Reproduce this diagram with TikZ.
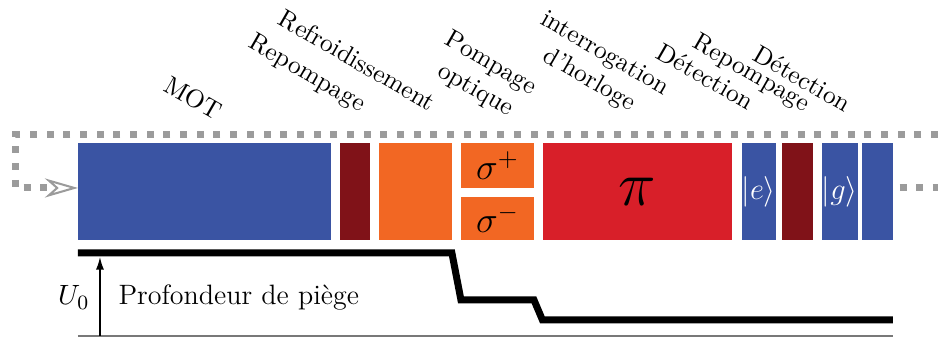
\documentclass[tikz,border=0pt]{standalone}
\usetikzlibrary{arrows, arrows.meta}
\definecolor{motblue}{RGB}{58,84,163}
\definecolor{darkred}{RGB}{128,18,24}
\definecolor{laserorange}{RGB}{242,103,35}
\definecolor{clockred}{RGB}{216,31,41}
\definecolor{dotgray}{RGB}{155,155,155}
\definecolor{axisgray}{RGB}{120,120,120}

\begin{document}
\begin{tikzpicture}[
  blk/.style={anchor=north west, inner sep=0pt, outer sep=0pt, minimum height=1.338cm},
  lbl/.style={rotate=-30, inner sep=0pt},
  loop/.style={draw=dotgray, line width=2.75pt, dash pattern=on 2.75pt off 3.8pt},
  trap/.style={line width=2.75pt}
]
\useasboundingbox (0,0) rectangle (12.94,-4.662);

%Loop of the sequence
\coordinate (loopstart) at (12.94,-1.862);
\coordinate (loopcorner1) at (0.207,-1.862);
\coordinate (loopcorner2) at (0.207,-2.593);
\coordinate (loopin) at (1.076,-2.593);
\coordinate (loopout) at (12.41,-2.593);
\coordinate (loopend) at (12.94,-2.593);
\draw[loop, -{Stealth[open, length=13pt, width=7.5pt, line width=0.8pt]}] (loopstart) -- (loopcorner1) -- (loopcorner2) -- (loopin);
\draw[loop] (loopout) -- (loopend);

%Sequence blocks
\node[blk, fill=motblue, minimum width=3.49cm] (mot) at (1.076,-1.979){};
\node[blk, fill=darkred, minimum width=0.42cm] (rep1) at (4.69,-1.979){};
\node[blk, fill=laserorange, minimum width=1.0cm] (cool) at (5.232,-1.979){};
\node[blk, fill=laserorange, minimum width=1.0cm, minimum height=0.61cm] (sigp) at (6.363,-1.979){\Large$\sigma^+$};
\node[blk, fill=laserorange, minimum width=1.0cm, minimum height=0.604cm] (sigm) at (6.363,-2.713){\Large$\sigma^-$};
\node[blk, fill=clockred, minimum width=2.615cm] (clock) at (7.486,-1.979){\fontsize{34}{36}\selectfont$\pi$};
\node[blk, fill=motblue, minimum width=0.43cm, text=white] (det1) at (10.23,-1.979){\fontsize{11.5}{13}\selectfont$|e\rangle$};
\node[blk, fill=darkred, minimum width=0.43cm] (rep2) at (10.782,-1.979){};
\node[blk, fill=motblue, minimum width=0.43cm, text=white] (det2) at (11.338,-1.979){\fontsize{11.5}{13}\selectfont$|g\rangle$};
\node[blk, fill=motblue, minimum width=0.43cm] (det3) at (11.886,-1.979){};

%Labels of the steps
\node[lbl, anchor=base east] (lmot) at (2.98,-1.67){MOT};
\node[lbl, anchor=base east] (lrep1) at (4.97,-1.545){Repompage};
\node[lbl, anchor=base east] (lcool) at (5.93,-1.545){Refroidissement};
\node[lbl, anchor=south east, align=center] (lpomp) at (7.09,-1.74){Pompage\\optique};
\node[lbl, anchor=south east, align=center] (lclock) at (8.91,-1.75){interrogation\\d'horloge};
\node[lbl, anchor=base east] (ldet1) at (10.32,-1.53){Détection};
\node[lbl, anchor=base east] (lrep2) at (11.10,-1.545){Repompage};
\node[lbl, anchor=base east] (ldet2) at (11.655,-1.56){Détection};

%Trap depth
\draw[trap] (1.076,-3.49) -- (6.234,-3.49) -- (6.359,-4.138) -- (7.366,-4.138) -- (7.483,-4.414) -- (12.317,-4.414);
\draw[axisgray, line width=0.7pt] (1.076,-4.634) -- (12.317,-4.634);
\coordinate (ubase) at (1.379,-4.634);
\coordinate (utop) at (1.379,-3.545);
\draw[-{Latex[length=5pt,width=3.2pt]}, line width=0.6pt] (ubase) -- (utop);
\node[anchor=base east, inner sep=0pt, font=\fontsize{11}{13}\selectfont] (u0) at (1.24,-4.207){$U_0$};
\node[anchor=base west, inner sep=0pt, font=\fontsize{11}{13}\selectfont] (depth) at (1.628,-4.207){Profondeur de piège};

\end{tikzpicture}
\end{document}
